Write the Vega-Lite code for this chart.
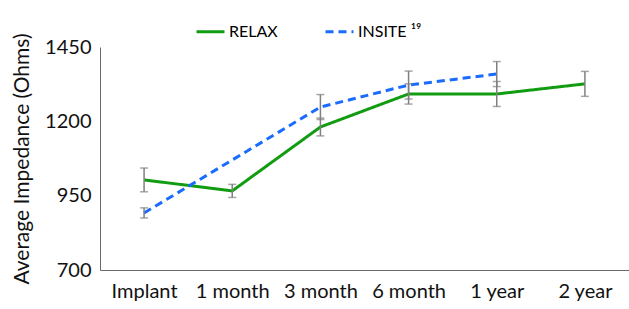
{
  "$schema": "https://vega.github.io/schema/vega-lite/v6.json",
  "width": 529,
  "height": 223,
  "autosize": {"type": "none"},
  "padding": {"left": 100, "top": 47, "right": 0, "bottom": 39},
  "background": "white",
  "config": {
    "view": {"stroke": null},
    "font": "Lato",
    "axis": {"grid": false, "ticks": false, "domainColor": "#6b6b6b", "domainWidth": 1, "labelColor": "#111", "titleColor": "#111", "labelFont": "Lato", "titleFont": "Lato", "titleFontWeight": "normal"}
  },
  "data": {
    "values": [
      {"t": "Implant", "series": "RELAX", "v": 1003, "lo": 963, "hi": 1043},
      {"t": "1 month", "series": "RELAX", "v": 966, "lo": 944, "hi": 988},
      {"t": "3 month", "series": "RELAX", "v": 1181, "lo": 1151, "hi": 1211},
      {"t": "6 month", "series": "RELAX", "v": 1292, "lo": 1258, "hi": 1326},
      {"t": "1 year", "series": "RELAX", "v": 1292, "lo": 1250, "hi": 1334},
      {"t": "2 year", "series": "RELAX", "v": 1326, "lo": 1284, "hi": 1368},
      {"t": "Implant", "series": "INSITE ¹⁹", "v": 892, "lo": 875, "hi": 909},
      {"t": "1 month", "series": "INSITE ¹⁹", "v": 1070, "lo": null, "hi": null},
      {"t": "3 month", "series": "INSITE ¹⁹", "v": 1248, "lo": 1206, "hi": 1290},
      {"t": "6 month", "series": "INSITE ¹⁹", "v": 1322, "lo": 1275, "hi": 1369},
      {"t": "1 year", "series": "INSITE ¹⁹", "v": 1359, "lo": 1317, "hi": 1401}
    ]
  },
  "encoding": {
    "x": {
      "field": "t", "type": "ordinal",
      "sort": ["Implant", "1 month", "3 month", "6 month", "1 year", "2 year"],
      "scale": {"type": "point", "padding": 0.5},
      "axis": {"title": null, "labelAngle": 0, "labelFontSize": 20, "labelPadding": 11}
    }
  },
  "layer": [
    {
      "mark": {"type": "line", "strokeWidth": 3},
      "encoding": {
        "y": {
          "field": "v", "type": "quantitative",
          "scale": {"domain": [700, 1450], "nice": false, "zero": false},
          "axis": {"values": [700, 950, 1200, 1450], "format": "d", "title": "Average Impedance (Ohms)", "titleFontSize": 21, "labelFontSize": 20, "labelPadding": 9, "titlePadding": 12}
        },
        "color": {
          "field": "series", "type": "nominal",
          "scale": {"domain": ["RELAX", "INSITE ¹⁹"], "range": ["#129c12", "#1a6cff"]},
          "legend": {"title": null, "orient": "none", "legendX": 95, "legendY": -31, "direction": "horizontal", "labelFontSize": 16, "labelFont": "Lato", "symbolType": "stroke", "symbolSize": 784, "symbolStrokeWidth": 3, "columnPadding": 41, "labelOffset": 3}
        },
        "strokeDash": {
          "field": "series", "type": "nominal",
          "scale": {"domain": ["RELAX", "INSITE ¹⁹"], "range": [[1, 0], [8, 5]]},
          "legend": {"title": null, "orient": "none", "legendX": 95, "legendY": -31, "direction": "horizontal", "labelFontSize": 16, "labelFont": "Lato", "symbolType": "stroke", "symbolSize": 784, "symbolStrokeWidth": 3, "columnPadding": 41, "labelOffset": 3}
        }
      }
    },
    {
      "mark": {"type": "rule", "color": "#808080", "strokeWidth": 1.5},
      "encoding": {
        "y": {"field": "lo", "type": "quantitative"},
        "y2": {"field": "hi"}
      }
    },
    {
      "mark": {"type": "tick", "color": "#808080", "thickness": 1.5, "size": 8, "orient": "horizontal"},
      "encoding": {"y": {"field": "lo", "type": "quantitative"}}
    },
    {
      "mark": {"type": "tick", "color": "#808080", "thickness": 1.5, "size": 8, "orient": "horizontal"},
      "encoding": {"y": {"field": "hi", "type": "quantitative"}}
    }
  ]
}
